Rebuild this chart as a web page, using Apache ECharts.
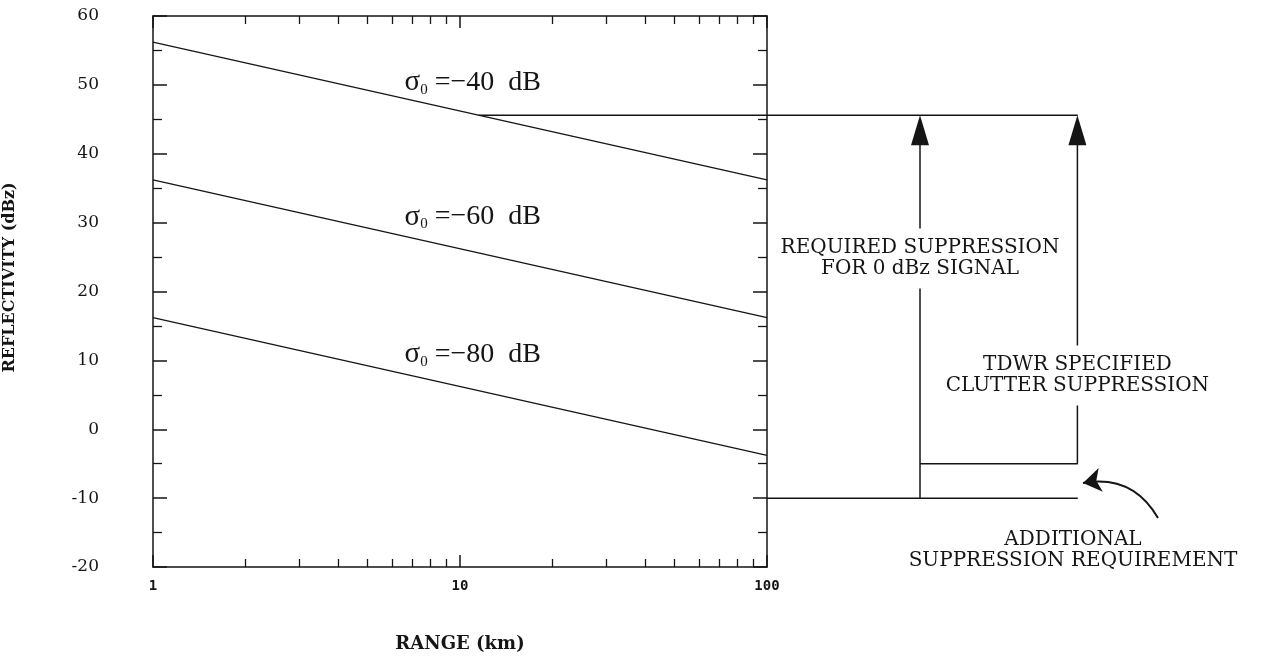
<!DOCTYPE html>
<html>
<head>
<meta charset="utf-8">
<script src="https://cdn.jsdelivr.net/npm/echarts@6/dist/echarts.min.js"></script>
<style>
html,body{margin:0;padding:0;background:#fff;}
#chart{width:1263px;height:660px;}
</style>
</head>
<body>
<div id="chart"></div>
<script>
// ---- data ----
const rangeEnds = [1, 100];                       // km
const sigmaLabels = ['−40', '−60', '−80'];        // dB
const reflAtStart = [56.2, 36.2, 16.2];           // dBz at 1 km
const reflAtEnd = [36.2, 16.2, -3.8];             // dBz at 100 km
const sigmaLabelPos = [[6.6, 50.3], [6.6, 30.8], [6.6, 10.8]];
const xMajorTicks = [1, 10, 100];
const xMinorTicks = [2, 3, 4, 5, 6, 7, 8, 9, 20, 30, 40, 50, 60, 70, 80, 90];
const yMin = -20, yMax = 60, yStep = 10;

// annotation panel (right of plot)
const clutterLevel = 45.6;     // dBz level of -40 dB clutter crossing
const crossRange = 11.5;       // km where -40 dB line meets the level
const floorLevel = -10;        // dBz
const tdwrLevel = -5;          // dBz
const arrowCols = [38.25, 77.6];
const panelEnd = 77.7;
const curveArrow = [[97.75, -12.9], [79, -7.8]];
const annoTexts = [
  { pos: [38.25, 24.8], text: 'REQUIRED SUPPRESSION\nFOR 0 dBz SIGNAL' },
  { pos: [77.6, 7.8], text: 'TDWR SPECIFIED\nCLUTTER SUPPRESSION' },
  { pos: [76.5, -17.6], text: 'ADDITIONAL\nSUPPRESSION REQUIREMENT' }
];

const ink = '#151515';
const serif = "'Liberation Serif', 'DejaVu Serif', serif";
const wideSerif = "'DejaVu Serif', 'Liberation Serif', serif";

const chart = echarts.init(document.getElementById('chart'));

const lineSeries = sigmaLabels.map((s, i) => ({
  type: 'line', xAxisIndex: 0, yAxisIndex: 0, symbol: 'none', silent: true,
  lineStyle: { color: ink, width: 1.3 },
  data: [[rangeEnds[0], reflAtStart[i]], [rangeEnds[1], reflAtEnd[i]]]
}));

const sigmaLabelSeries = {
  type: 'scatter', xAxisIndex: 0, yAxisIndex: 0, symbolSize: 0, silent: true,
  itemStyle: { opacity: 1 },
  data: sigmaLabels.map((s, i) => [sigmaLabelPos[i][0], sigmaLabelPos[i][1], s]),
  label: {
    show: true, position: 'right', distance: 0, opacity: 1,
    formatter: p => '{s|σ}{sub|0}{t| =' + p.value[2] + '  dB}',
    rich: {
      s: { fontFamily: serif, fontSize: 29, color: ink },
      sub: { fontFamily: serif, fontSize: 15, color: ink, verticalAlign: 'bottom', padding: [12, 0, 0, 0] },
      t: { fontFamily: serif, fontSize: 28, color: ink }
    }
  }
};

function xAx(pos, major) {
  return {
    gridIndex: 0, type: 'log', logBase: 10, min: 1, max: 100, position: pos,
    axisLine: { show: major, onZero: false, lineStyle: { color: ink, width: 1.5 } },
    axisTick: {
      show: true, inside: true, length: major ? 12 : 8,
      customValues: major ? xMajorTicks : xMinorTicks,
      lineStyle: { color: ink, width: major ? 1.5 : 1.3 }
    },
    axisLabel: { show: false }, splitLine: { show: false }
  };
}
const xBottom = xAx('bottom', true);
xBottom.axisLabel = {
  show: true, customValues: xMajorTicks, margin: 12,
  fontFamily: "'DejaVu Sans Mono', monospace", fontWeight: 'bold', fontSize: 14, color: ink
};
xBottom.name = 'RANGE (km)';
xBottom.nameLocation = 'middle';
xBottom.nameGap = 68;
xBottom.nameTextStyle = { fontFamily: wideSerif, fontSize: 18, fontWeight: 'bold', color: ink };

function yAx(pos) {
  return {
    gridIndex: 0, type: 'value', min: yMin, max: yMax, interval: yStep, position: pos,
    axisLine: { show: true, onZero: false, lineStyle: { color: ink, width: 1.5 } },
    axisTick: { show: true, inside: true, length: 14, lineStyle: { color: ink, width: 1.5 } },
    minorTick: { show: true, splitNumber: 2, length: 9, lineStyle: { color: ink, width: 1.3 } },
    axisLabel: { show: false }, splitLine: { show: false }
  };
}
const yLeft = yAx('left');
yLeft.axisLabel = { show: true, margin: 54, fontFamily: wideSerif, fontSize: 17, color: ink };
yLeft.name = 'REFLECTIVITY (dBz)';
yLeft.nameLocation = 'middle';
yLeft.nameGap = 135;
yLeft.nameRotate = 90;
yLeft.nameTextStyle = { fontFamily: wideSerif, fontSize: 16, fontWeight: 'bold', color: ink, padding: [0, 0, 0, 28] };

const option = {
  backgroundColor: '#fff',
  animation: false,
  grid: [
    { left: 153, top: 16, width: 614, height: 551 },
    { left: 767, top: 16, width: 400, height: 551 }
  ],
  xAxis: [
    xBottom,
    xAx('bottom', false),
    xAx('top', true),
    xAx('top', false),
    { gridIndex: 1, type: 'value', min: 0, max: 100, show: false }
  ],
  yAxis: [
    yLeft,
    yAx('right'),
    { gridIndex: 1, type: 'value', min: yMin, max: yMax, show: false }
  ],
  series: [
    ...lineSeries,
    {
      type: 'line', xAxisIndex: 0, yAxisIndex: 0, symbol: 'none', silent: true,
      lineStyle: { color: ink, width: 1.5 },
      data: [[crossRange, clutterLevel], [rangeEnds[1], clutterLevel]]
    },
    sigmaLabelSeries,
    {
      type: 'lines', coordinateSystem: 'cartesian2d', xAxisIndex: 4, yAxisIndex: 2,
      polyline: true, silent: true, clip: false,
      lineStyle: { color: ink, width: 1.5, opacity: 1 },
      data: [
        { coords: [[0, clutterLevel], [panelEnd, clutterLevel]] },
        { coords: [[0, floorLevel], [panelEnd, floorLevel]] },
        { coords: [[arrowCols[0], tdwrLevel], [panelEnd, tdwrLevel]] },
        { coords: [[arrowCols[0], floorLevel], [arrowCols[0], clutterLevel - 2]] },
        { coords: [[arrowCols[1], tdwrLevel], [arrowCols[1], clutterLevel - 2]] }
      ]
    },
    {
      type: 'scatter', xAxisIndex: 4, yAxisIndex: 2, silent: true, clip: false,
      symbol: 'triangle', symbolSize: [18, 30], symbolOffset: [0, '50%'],
      itemStyle: { color: ink, opacity: 1 },
      data: arrowCols.map(x => [x, clutterLevel])
    },
    {
      type: 'lines', coordinateSystem: 'cartesian2d', xAxisIndex: 4, yAxisIndex: 2,
      silent: true, clip: false,
      symbol: ['none', 'arrow'], symbolSize: 18,
      lineStyle: { color: ink, width: 2, curveness: -0.35, opacity: 1 },
      data: [{ coords: curveArrow }]
    },
    {
      type: 'scatter', xAxisIndex: 4, yAxisIndex: 2, symbolSize: 0, silent: true, clip: false,
      itemStyle: { opacity: 1 },
      data: annoTexts.map(a => ({ value: a.pos, name: a.text })),
      label: {
        show: true, position: 'inside', formatter: p => p.name, opacity: 1,
        fontFamily: wideSerif, fontSize: 20, lineHeight: 21, color: ink, align: 'center',
        backgroundColor: '#fff', padding: [8, 4, 10, 4]
      }
    }
  ]
};
chart.setOption(option);
</script>
</body>
</html>
